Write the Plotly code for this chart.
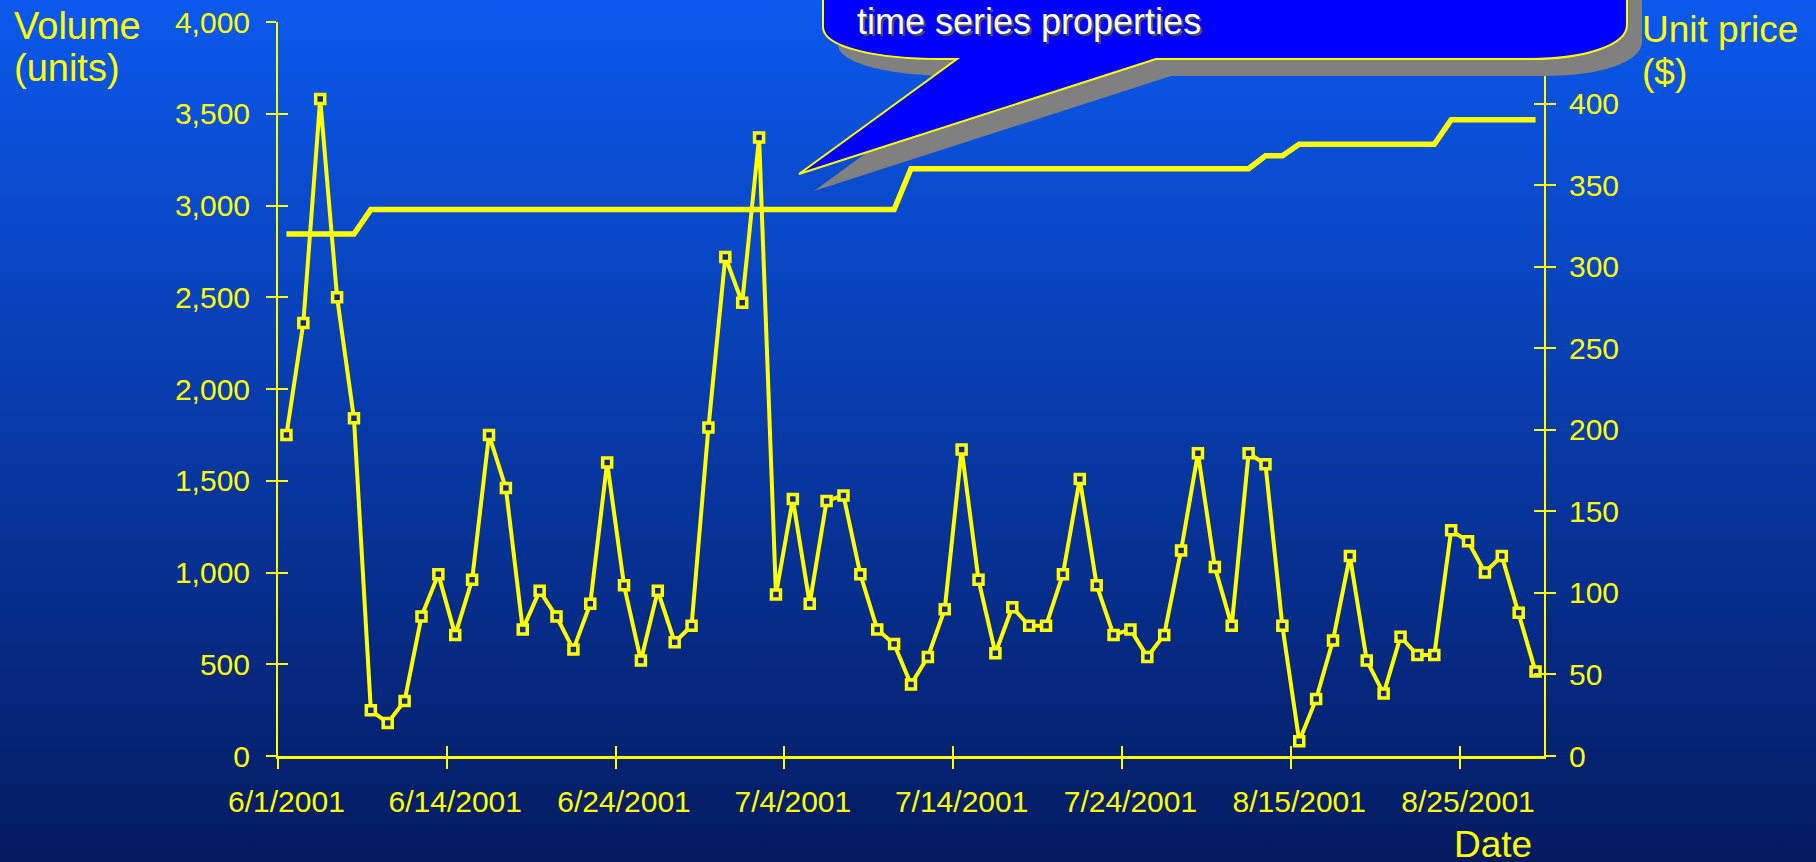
import base64

import plotly.graph_objects as go

# trading-day index and labelled ticks
DAY = list(range(75))
TICK_POS = [0, 10, 20, 30, 40, 50, 60, 70]
TICK_TEXT = ["6/1/2001", "6/14/2001", "6/24/2001", "7/4/2001",
             "7/14/2001", "7/24/2001", "8/15/2001", "8/25/2001"]

VOLUME = [1750, 2360, 3580, 2500, 1840, 250, 180, 300, 760, 990,
          660, 960, 1750, 1460, 690, 900, 760, 580, 830, 1600,
          930, 520, 900, 620, 710, 1790, 2720, 2470, 3370, 880,
          1400, 830, 1390, 1420, 990, 690, 610, 390, 540, 800,
          1670, 960, 560, 810, 710, 710, 990, 1510, 930, 660,
          690, 540, 660, 1120, 1650, 1030, 710, 1650, 1590, 710,
          80, 310, 630, 1090, 520, 340, 650, 550, 550, 1230,
          1170, 1000, 1090, 780, 460]

PRICE = [320, 320, 320, 320, 320, 335, 335, 335, 335, 335,
         335, 335, 335, 335, 335, 335, 335, 335, 335, 335,
         335, 335, 335, 335, 335, 335, 335, 335, 335, 335,
         335, 335, 335, 335, 335, 335, 335, 360, 360, 360,
         360, 360, 360, 360, 360, 360, 360, 360, 360, 360,
         360, 360, 360, 360, 360, 360, 360, 360, 368, 368,
         375, 375, 375, 375, 375, 375, 375, 375, 375, 390,
         390, 390, 390, 390, 390]

YELLOW = "#ffff00"
FONT = "Liberation Sans, Arial, sans-serif"

W, H = 1816, 862
L, R, T, B = 278, 272, 22, 106
PW, PH = W - L - R, H - T - B


def px(x):
    return (x - L) / PW


def py(y):
    return (H - B - y) / PH


def path(points, dx=0, dy=0):
    out = []
    for cmd, *pts in points:
        coords = " ".join(f"{px(x + dx):.5f},{py(y + dy):.5f}" for x, y in pts)
        out.append(f"{cmd} {coords}")
    return " ".join(out) + " Z"


callout = [
    ("M", (823, -20)),
    ("L", (823, 27)),
    ("C", (823, 48), (880, 59), (940, 59)),
    ("L", (957, 59)),
    ("L", (799, 174)),
    ("L", (1156, 59)),
    ("L", (1530, 59)),
    ("C", (1585, 59), (1627, 45), (1627, 25)),
    ("L", (1627, -20)),
]

svg = (
    f'<svg xmlns="http://www.w3.org/2000/svg" width="{W}" height="{H}">'
    '<defs><linearGradient id="g" x1="0" y1="0" x2="0" y2="1">'
    '<stop offset="0" stop-color="#0b59ee"/><stop offset="1" stop-color="#041a60"/>'
    '</linearGradient></defs>'
    f'<rect width="{W}" height="{H}" fill="url(#g)"/></svg>'
)
bg_src = "data:image/svg+xml;base64," + base64.b64encode(svg.encode()).decode()

fig = go.Figure()
fig.add_trace(go.Scatter(
    x=DAY, y=PRICE, mode="lines", yaxis="y2",
    line=dict(color=YELLOW, width=5.5),
    hoverinfo="skip",
))
fig.add_trace(go.Scatter(
    x=DAY, y=VOLUME, mode="lines+markers", yaxis="y",
    line=dict(color=YELLOW, width=4),
    marker=dict(symbol="square", size=9, color="#10288a",
                line=dict(color=YELLOW, width=3.5)),
    hoverinfo="skip",
))
# empty traces so the overlay (inside-tick) axes get drawn
fig.add_trace(go.Scatter(x=[], y=[], xaxis="x2", yaxis="y3"))
fig.add_trace(go.Scatter(x=[], y=[], xaxis="x2", yaxis="y4"))

boundaries = [p - 0.5 for p in TICK_POS]
tick_common = dict(ticklen=10, tickwidth=2, tickcolor=YELLOW)
no_grid = dict(showgrid=False, zeroline=False, automargin=False)


def title_note(text, x, y, size=37, color=YELLOW, anchor="left", yanchor="top"):
    return dict(text=text, x=px(x), y=py(y), xref="paper", yref="paper",
                xanchor=anchor, yanchor=yanchor, align="left", showarrow=False,
                font=dict(size=size, color=color))


fig.update_layout(
    width=W, height=H,
    margin=dict(l=L, r=R, t=T, b=B, autoexpand=False),
    paper_bgcolor="#0b59ee", plot_bgcolor="rgba(0,0,0,0)",
    font=dict(family=FONT, color=YELLOW, size=30),
    showlegend=False,
    xaxis=dict(
        range=[-0.5, 74.5], tickmode="array", tickvals=TICK_POS, ticktext=TICK_TEXT,
        ticks="", **no_grid,
        showline=True, linecolor=YELLOW, linewidth=3,
        tickfont=dict(size=30, color=YELLOW), ticklabelstandoff=17,
        minor=dict(tickmode="array", tickvals=boundaries, ticks="outside", **tick_common),
    ),
    xaxis2=dict(
        range=[-0.5, 74.5], overlaying="x", anchor="y", side="bottom",
        tickmode="array", tickvals=boundaries, ticks="inside", **tick_common,
        showticklabels=False, showline=False, **no_grid,
    ),
    yaxis=dict(
        range=[0, 4000], dtick=500, tickformat=",", ticks="outside", **tick_common,
        **no_grid, showline=True, linecolor=YELLOW, linewidth=2,
        tickfont=dict(size=30, color=YELLOW), ticklabelstandoff=10,
    ),
    yaxis2=dict(
        range=[0, 450], dtick=50, overlaying="y", side="right", anchor="x",
        ticks="outside", **tick_common,
        **no_grid, showline=True, linecolor=YELLOW, linewidth=2,
        tickfont=dict(size=30, color=YELLOW), ticklabelstandoff=7,
    ),
    yaxis3=dict(
        range=[0, 4000], dtick=500, overlaying="y", side="left", anchor="x",
        ticks="inside", **tick_common,
        showticklabels=False, showline=False, **no_grid,
    ),
    yaxis4=dict(
        range=[0, 450], dtick=50, overlaying="y", side="right", anchor="x",
        ticks="inside", **tick_common,
        showticklabels=False, showline=False, **no_grid,
    ),
    images=[dict(
        source=bg_src, xref="paper", yref="paper",
        x=px(0), y=py(0), sizex=W / PW, sizey=H / PH,
        xanchor="left", yanchor="top", sizing="stretch", layer="below",
    )],
    shapes=[
        dict(type="path", xref="paper", yref="paper", layer="above",
             path=path(callout, 15, 17), fillcolor="#808080", line=dict(width=0)),
        dict(type="path", xref="paper", yref="paper", layer="above",
             path=path(callout), fillcolor="#0000ff", line=dict(color=YELLOW, width=2)),
    ],
    annotations=[
        title_note("Volume", 12, 3, size=38),
        title_note("(units)", 12, 45, size=38),
        title_note("Unit price", 1640, 7),
        title_note("($)", 1640, 50),
        title_note("Date", 1534, 822, anchor="right"),
        title_note("time series properties", 857, 1, size=36, color="#505050"),
        title_note("time series properties", 855, -1, size=36, color="#ffffff"),
    ],
)

fig.write_html(
    "out.html",
    config={"displayModeBar": False},
    post_script="document.body.style.margin='0';document.body.style.overflow='hidden';",
)
